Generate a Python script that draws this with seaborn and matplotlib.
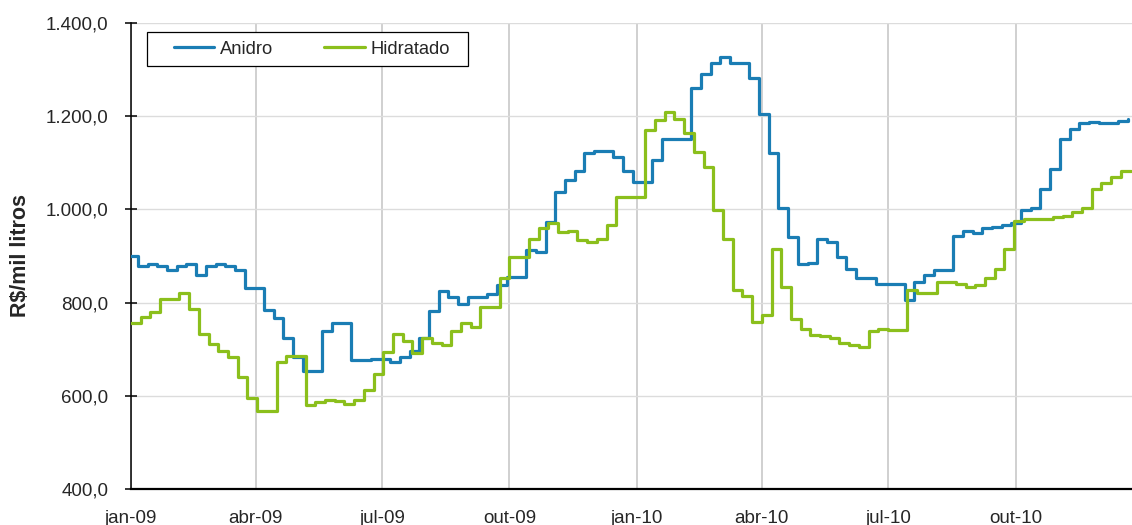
import pandas as pd
import matplotlib.pyplot as plt
import matplotlib.dates as mdates
import matplotlib.patches as patches
from matplotlib.ticker import FuncFormatter, MultipleLocator
import seaborn as sns

# weekly prices, R$/mil litros
anidro = [900, 879, 883, 879, 869, 879, 883, 859, 879, 883,
          879, 869, 831, 831, 784, 766, 725, 684, 653, 653,
          738, 757, 757, 677, 677, 680, 680, 673, 684, 696,
          725, 783, 824, 813, 796, 812, 812, 818, 838, 855,
          855, 913, 909, 972, 1037, 1063, 1082, 1122, 1125, 1125,
          1112, 1082, 1059, 1059, 1105, 1150, 1150, 1150, 1260, 1291,
          1315, 1328, 1315, 1315, 1281, 1205, 1120, 1004, 940, 882,
          886, 937, 931, 898, 872, 853, 853, 840, 840, 840,
          806, 844, 859, 870, 870, 943, 954, 950, 960, 963,
          966, 971, 999, 1004, 1043, 1086, 1150, 1172, 1185, 1188,
          1185, 1185, 1190, 1193]

hidratado = [756, 770, 779, 808, 808, 821, 786, 732, 711, 696,
             684, 641, 595, 567, 567, 673, 685, 685, 580, 586,
             592, 589, 583, 592, 612, 647, 695, 732, 718, 691,
             723, 713, 709, 738, 756, 748, 790, 790, 853, 898,
             898, 936, 959, 970, 951, 954, 934, 931, 936, 966,
             1027, 1027, 1027, 1170, 1192, 1208, 1195, 1163, 1124, 1092,
             999, 936, 828, 814, 759, 773, 914, 834, 764, 744,
             731, 728, 725, 713, 709, 705, 740, 744, 741, 741,
             828, 821, 821, 844, 844, 840, 834, 837, 853, 872,
             914, 976, 980, 980, 980, 983, 986, 994, 1002, 1043,
             1056, 1069, 1082, 1082]

datas_anidro = pd.date_range('2008-12-30', periods=len(anidro), freq='7D')
datas_hidratado = pd.date_range('2009-01-01', periods=len(hidratado), freq='7D')

meses_pt = ['jan', 'fev', 'mar', 'abr', 'mai', 'jun',
            'jul', 'ago', 'set', 'out', 'nov', 'dez']

cores = {'Anidro': '#1a7db4', 'Hidratado': '#8bbf1c'}

df = pd.concat([
    pd.DataFrame({'data': datas_anidro, 'valor': anidro, 'serie': 'Anidro'}),
    pd.DataFrame({'data': datas_hidratado, 'valor': hidratado, 'serie': 'Hidratado'}),
])


def br_num(v, pos):
    s = f"{v:,.1f}"
    return s.replace(",", "X").replace(".", ",").replace("X", ".")


def mes_ano(x, pos):
    d = mdates.num2date(x)
    return f"{meses_pt[d.month - 1]}-{d.strftime('%y')}"


sns.set_theme(style='white')
plt.rcParams['font.family'] = ['Liberation Sans', 'DejaVu Sans']

fig = plt.figure(figsize=(11.32, 5.25), dpi=100)
ax = fig.add_axes([0.1157, 0.0686, 0.8843, 0.8876])

sns.lineplot(data=df, x='data', y='valor', hue='serie', palette=cores,
             drawstyle='steps-post', linewidth=2.3, legend=False, ax=ax,
             zorder=3)

ax.set_xlim(pd.Timestamp('2009-01-01'), pd.Timestamp('2010-12-24'))
ax.set_ylim(400, 1400)
ax.yaxis.set_major_locator(MultipleLocator(200))
ax.yaxis.set_major_formatter(FuncFormatter(br_num))
ax.xaxis.set_major_locator(mdates.MonthLocator(bymonth=[1, 4, 7, 10]))
ax.xaxis.set_major_formatter(FuncFormatter(mes_ano))

ax.grid(axis='y', color='#dcdcdc', linewidth=1.0, zorder=0)
ax.grid(axis='x', color='#c4c4c4', linewidth=1.1, zorder=0)
ax.set_axisbelow(True)

for s in ['top', 'right']:
    ax.spines[s].set_visible(False)
ax.spines['left'].set_color('black')
ax.spines['left'].set_linewidth(1.1)
ax.spines['bottom'].set_color('black')
ax.spines['bottom'].set_linewidth(1.6)

ax.tick_params(axis='y', direction='inout', length=8.5, width=1.1,
               color='black', pad=12, labelsize=13.5, left=True)
ax.tick_params(axis='x', length=0, pad=15, labelsize=13.5)

ax.set_xlabel('')
ax.set_ylabel('R$/mil litros', fontsize=15.5, fontweight='bold')
ax.yaxis.set_label_coords(-0.1, 0.5)

# legend box
caixa = patches.Rectangle((0.016, 0.9077), 0.3207, 0.073, transform=ax.transAxes,
                          facecolor='white', edgecolor='black', linewidth=0.9,
                          zorder=5)
ax.add_patch(caixa)
handles = [plt.Line2D([], [], color=cores[k], linewidth=2.3) for k in cores]
leg = ax.legend(handles, list(cores), loc='center left',
                bbox_to_anchor=(0.043, 0.944), ncol=2, frameon=False,
                fontsize=13.2, handlelength=2.2, handletextpad=0.3,
                columnspacing=2.8, borderpad=0, borderaxespad=0)
leg.set_zorder(6)

plt.savefig('out.png', dpi=100)
